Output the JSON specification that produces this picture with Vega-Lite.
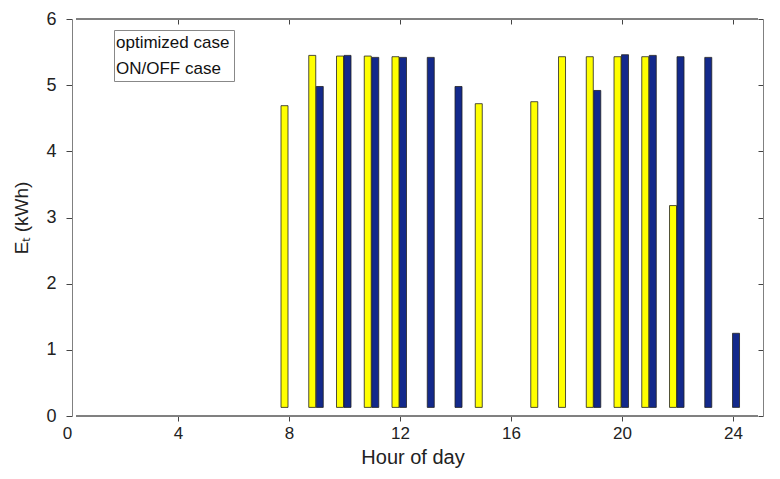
{
  "$schema": "https://vega.github.io/schema/vega-lite/v6.json",
  "width": 701,
  "height": 397,
  "autosize": "none",
  "padding": {"left": 62, "top": 19, "right": 17, "bottom": 63},
  "background": "white",
  "config": {
    "font": "Liberation Sans",
    "view": {"stroke": null},
    "axis": {"grid": false, "domainColor": "#808080", "tickColor": "#444", "labelColor": "#222", "titleColor": "#222", "titleFontWeight": "normal"}
  },
  "data": {
    "values": [
      {"hour": 8, "case": "optimized case", "energy": 4.69},
      {"hour": 9, "case": "optimized case", "energy": 5.45},
      {"hour": 10, "case": "optimized case", "energy": 5.44},
      {"hour": 11, "case": "optimized case", "energy": 5.44},
      {"hour": 12, "case": "optimized case", "energy": 5.43},
      {"hour": 15, "case": "optimized case", "energy": 4.72},
      {"hour": 17, "case": "optimized case", "energy": 4.75},
      {"hour": 18, "case": "optimized case", "energy": 5.43},
      {"hour": 19, "case": "optimized case", "energy": 5.43},
      {"hour": 20, "case": "optimized case", "energy": 5.43},
      {"hour": 21, "case": "optimized case", "energy": 5.43},
      {"hour": 22, "case": "optimized case", "energy": 3.18},
      {"hour": 9, "case": "ON/OFF case", "energy": 4.98},
      {"hour": 10, "case": "ON/OFF case", "energy": 5.45},
      {"hour": 11, "case": "ON/OFF case", "energy": 5.42},
      {"hour": 12, "case": "ON/OFF case", "energy": 5.42},
      {"hour": 13, "case": "ON/OFF case", "energy": 5.42},
      {"hour": 14, "case": "ON/OFF case", "energy": 4.98},
      {"hour": 19, "case": "ON/OFF case", "energy": 4.92},
      {"hour": 20, "case": "ON/OFF case", "energy": 5.46},
      {"hour": 21, "case": "ON/OFF case", "energy": 5.45},
      {"hour": 22, "case": "ON/OFF case", "energy": 5.43},
      {"hour": 23, "case": "ON/OFF case", "energy": 5.42},
      {"hour": 24, "case": "ON/OFF case", "energy": 1.25}
    ]
  },
  "layer": [
    {
      "transform": [{"filter": "datum.case === 'optimized case'"}],
      "mark": {"type": "bar", "width": 7, "xOffset": -4.5, "stroke": "#222", "strokeWidth": 0.8},
      "encoding": {
        "x": {
          "field": "hour",
          "type": "quantitative",
          "scale": {"domain": [0, 24.9], "nice": false, "zero": false},
          "axis": {
            "orient": "bottom",
            "values": [0, 4, 8, 12, 16, 20, 24],
            "domain": false,
            "labelFlush": false,
            "tickSize": 5,
            "tickOpacity": {"condition": {"test": "datum.value === 0", "value": 0}, "value": 1},
            "labelFontSize": 17,
            "labelPadding": 4,
            "title": "Hour of day",
            "titleFontSize": 20,
            "titlePadding": 6
          }
        },
        "y": {
          "field": "energy",
          "type": "quantitative",
          "scale": {"domain": [0, 6], "nice": false},
          "axis": {
            "orient": "left",
            "offset": -10,
            "values": [0, 1, 2, 3, 4, 5, 6],
            "labelFlush": false,
            "tickSize": 6,
            "labelFontSize": 18,
            "labelPadding": 10,
            "title": "Eₜ (kWh)",
            "titleFontSize": 19,
            "titlePadding": 14
          }
        },
        "y2": {"datum": 0.13},
        "color": {
          "field": "case",
          "type": "nominal",
          "scale": {"domain": ["optimized case", "ON/OFF case"], "range": ["#FFFF00", "#13298B"]},
          "legend": {
            "title": null,
            "orient": "none",
            "legendX": 52,
            "legendY": 11,
            "strokeColor": "#888",
            "fillColor": "white",
            "padding": 4,
            "symbolSize": 0,
            "symbolStrokeWidth": 0,
            "labelOffset": -19,
            "labelFontSize": 17,
            "labelColor": "#111",
            "rowPadding": 8
          }
        }
      }
    },
    {
      "transform": [{"filter": "datum.case === 'ON/OFF case'"}],
      "mark": {"type": "bar", "width": 7, "xOffset": 3, "stroke": "#222", "strokeWidth": 0.8},
      "encoding": {
        "x": {
          "field": "hour",
          "type": "quantitative",
          "axis": {
            "orient": "top",
            "values": [4, 8, 12, 16, 20, 24],
            "domain": false,
            "tickSize": -5,
            "labels": false,
            "title": null
          }
        },
        "y": {
          "field": "energy",
          "type": "quantitative",
          "axis": {
            "orient": "right",
            "values": [0, 1, 2, 3, 4, 5, 6],
            "tickSize": -5,
            "labels": false,
            "title": null
          }
        },
        "y2": {"datum": 0.13},
        "color": {"field": "case", "type": "nominal"}
      }
    },
    {
      "mark": {"type": "rule", "color": "#808080", "strokeWidth": 1},
      "encoding": {
        "x": {"datum": 0.35, "type": "quantitative", "axis": null},
        "x2": {"datum": 24.9},
        "y": {"datum": 0, "type": "quantitative", "axis": null}
      }
    },
    {
      "mark": {"type": "rule", "color": "#808080", "strokeWidth": 1},
      "encoding": {
        "x": {"datum": 0.35, "type": "quantitative", "axis": null},
        "x2": {"datum": 24.9},
        "y": {"datum": 6, "type": "quantitative", "axis": null}
      }
    }
  ],
  "resolve": {"axis": {"x": "independent", "y": "independent"}}
}
